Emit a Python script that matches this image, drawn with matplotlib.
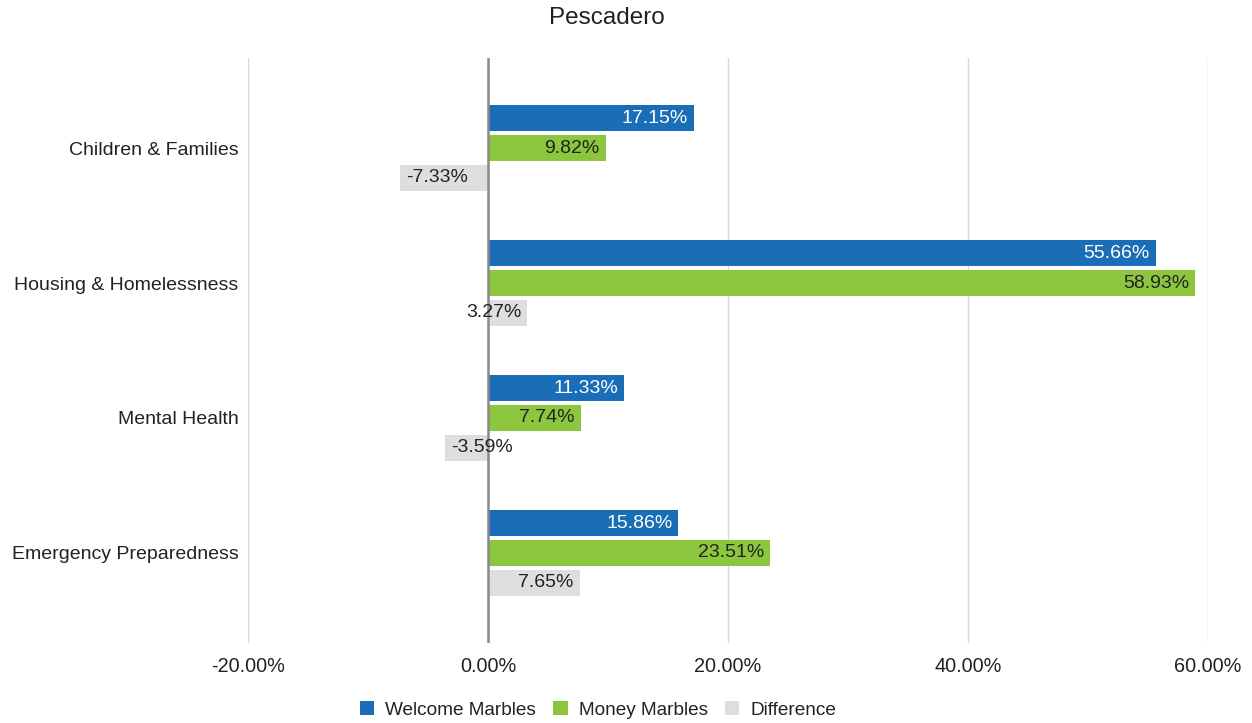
import matplotlib
matplotlib.use("Agg")
import matplotlib.pyplot as plt
from matplotlib.transforms import offset_copy
import numpy as np

plt.rcParams['font.family'] = ['Liberation Sans', 'DejaVu Sans']

categories = ["Children & Families", "Housing & Homelessness", "Mental Health", "Emergency Preparedness"]
welcome = [17.15, 55.66, 11.33, 15.86]
money = [9.82, 58.93, 7.74, 23.51]
difference = [-7.33, 3.27, -3.59, 7.65]
series_names = ["Welcome Marbles", "Money Marbles", "Difference"]
colors = ["#1a6eb7", "#8cc63f", "#dedede"]
text_colors = ["white", "#222222", "#222222"]
xticks = [-20, 0, 20, 40, 60]

fig = plt.figure(figsize=(12.52, 7.23), dpi=100)
ax = fig.add_axes([248/1252, 1-643/723, 960/1252, 585/723])

y = np.arange(len(categories))
offsets = [-0.222, 0.0, 0.222]
h = 0.195
series = [welcome, money, difference]
for s, vals in enumerate(series):
    ax.barh(y + offsets[s], vals, height=h, color=colors[s], zorder=3,
            label=series_names[s])
    for yi, v in zip(y, vals):
        if v >= 0:
            tr = offset_copy(ax.transData, fig=fig, x=-6, y=0, units='dots')
            ha = 'right'
        else:
            tr = offset_copy(ax.transData, fig=fig, x=6, y=0, units='dots')
            ha = 'left'
        ax.text(v, yi + offsets[s], f"{v:.2f}%", ha=ha, va='center',
                color=text_colors[s], fontsize=14, transform=tr, zorder=5)

ax.set_xlim(-20, 60)
ax.set_ylim(3 + 0.667, -0.667)
ax.set_yticks(y)
ax.set_yticklabels(categories, fontsize=14, color="#222222")
ax.set_xticks(xticks)
ax.set_xticklabels([f"{t:.2f}%" for t in xticks], fontsize=14.3, color="#222222")
ax.tick_params(axis='x', length=0, pad=10)
ax.tick_params(axis='y', length=0, pad=7)
ax.grid(axis='x', color="#d9d9d9", linewidth=1, zorder=0)
ax.axvline(0, color="#8a8a8a", linewidth=1.8, zorder=4)
for sp in ax.spines.values():
    sp.set_visible(False)

fig.text(607/1252, 1-18/723, "Pescadero", ha='center', va='center', fontsize=17.5, color="#222222")

handles, labels = ax.get_legend_handles_labels()
leg = fig.legend(handles, labels, loc='center', bbox_to_anchor=(598/1252, 1-710/723), ncol=3,
                 frameon=False, fontsize=13.7, handlelength=0.75, handleheight=0.75,
                 handletextpad=0.58, columnspacing=0.9)
for t in leg.get_texts():
    t.set_color("#222222")

fig.savefig("out.png", dpi=100)
